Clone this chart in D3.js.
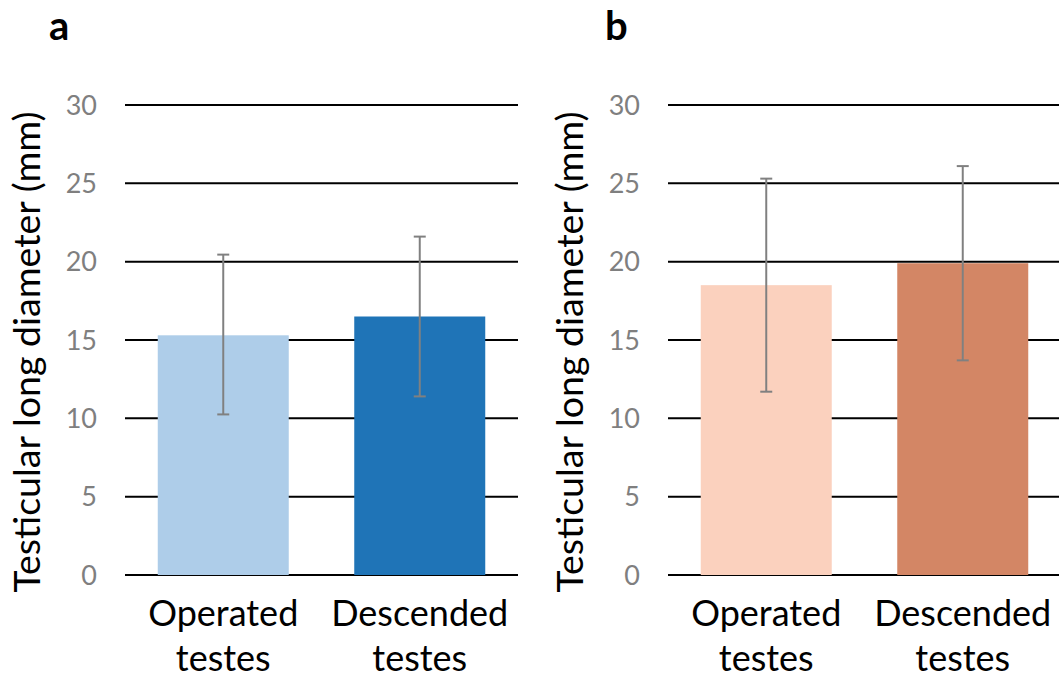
<!DOCTYPE html>
<html>
<head>
<meta charset="utf-8">
<script src="https://cdn.jsdelivr.net/npm/d3@7"></script>
<style>
  body { margin: 0; background: #fff; }
  svg { display: block; font-family: Lato, "Open Sans", sans-serif; }
</style>
</head>
<body>
<svg id="chart" width="1059" height="678"></svg>
<script>
// Data
const categories = [['Operated', 'testes'], ['Descended', 'testes']];
const panelLabels = ['a', 'b'];
const meansA = [15.3, 16.5];
const errLowA = [10.25, 11.4];
const errHighA = [20.45, 21.6];
const meansB = [18.5, 19.9];
const errLowB = [11.7, 13.7];
const errHighB = [25.3, 26.1];
const colorsA = ['#aecde9', '#1f74b7'];
const colorsB = ['#fbd1be', '#d38665'];
const yTicks = [0, 5, 10, 15, 20, 25, 30];
const yTitle = 'Testicular long diameter (mm)';

const panels = [
  { label: panelLabels[0], left: 125, letterX: 49, means: meansA, lo: errLowA, hi: errHighA, colors: colorsA },
  { label: panelLabels[1], left: 668, letterX: 605, means: meansB, lo: errLowB, hi: errHighB, colors: colorsB }
];

const svg = d3.select('#chart');
const plotTop = 105, plotBottom = 575, plotWidth = 393;

const y = d3.scaleLinear().domain([0, 30]).range([plotBottom, plotTop]);

panels.forEach(p => {
  const g = svg.append('g').attr('transform', `translate(${p.left},0)`);

  const x = d3.scaleBand()
    .domain(d3.range(categories.length))
    .range([0, plotWidth])
    .paddingInner(1 / 3)
    .paddingOuter(1 / 6);

  // gridlines
  g.selectAll('.grid')
    .data(yTicks)
    .enter().append('line')
    .attr('x1', 0).attr('x2', plotWidth)
    .attr('y1', d => y(d)).attr('y2', d => y(d))
    .attr('stroke', '#000').attr('stroke-width', 2);

  // tick labels
  g.selectAll('.tick-label')
    .data(yTicks)
    .enter().append('text')
    .attr('x', -28)
    .attr('y', d => y(d))
    .attr('dy', '0.36em')
    .attr('text-anchor', 'end')
    .attr('fill', '#7f7f7f')
    .style('font-size', '27px')
    .text(d => d);

  // bars
  g.selectAll('.bar')
    .data(p.means)
    .enter().append('rect')
    .attr('x', (d, i) => x(i))
    .attr('width', x.bandwidth())
    .attr('y', d => y(d))
    .attr('height', d => y(0) - y(d))
    .attr('fill', (d, i) => p.colors[i]);

  // error bars
  const eb = g.selectAll('.err')
    .data(p.means)
    .enter().append('g')
    .attr('stroke', '#808080').attr('stroke-width', 2);
  const cx = i => x(i) + x.bandwidth() / 2;
  eb.append('line')
    .attr('x1', (d, i) => cx(i)).attr('x2', (d, i) => cx(i))
    .attr('y1', (d, i) => y(p.lo[i])).attr('y2', (d, i) => y(p.hi[i]));
  eb.append('line')
    .attr('x1', (d, i) => cx(i) - 6).attr('x2', (d, i) => cx(i) + 6)
    .attr('y1', (d, i) => y(p.lo[i])).attr('y2', (d, i) => y(p.lo[i]));
  eb.append('line')
    .attr('x1', (d, i) => cx(i) - 6).attr('x2', (d, i) => cx(i) + 6)
    .attr('y1', (d, i) => y(p.hi[i])).attr('y2', (d, i) => y(p.hi[i]));

  // category labels
  g.selectAll('.cat')
    .data(categories)
    .enter().append('text')
    .attr('text-anchor', 'middle')
    .attr('fill', '#000')
    .style('font-size', '36px')
    .selectAll('tspan')
    .data((d, i) => d.map(t => ({ t, i })))
    .enter().append('tspan')
    .attr('x', d => cx(d.i))
    .attr('y', (d, j) => 626 + j * 45)
    .text(d => d.t);

  // y-axis title
  g.append('text')
    .attr('transform', `translate(${-85},${352}) rotate(-90)`)
    .attr('text-anchor', 'middle')
    .attr('fill', '#000')
    .style('font-size', '37.5px')
    .text(yTitle);

  // panel letter
  g.append('text')
    .attr('x', p.letterX - p.left).attr('y', 40)
    .attr('fill', '#000')
    .style('font-size', '40px')
    .style('font-weight', 'bold')
    .text(p.label);
});
</script>
</body>
</html>
